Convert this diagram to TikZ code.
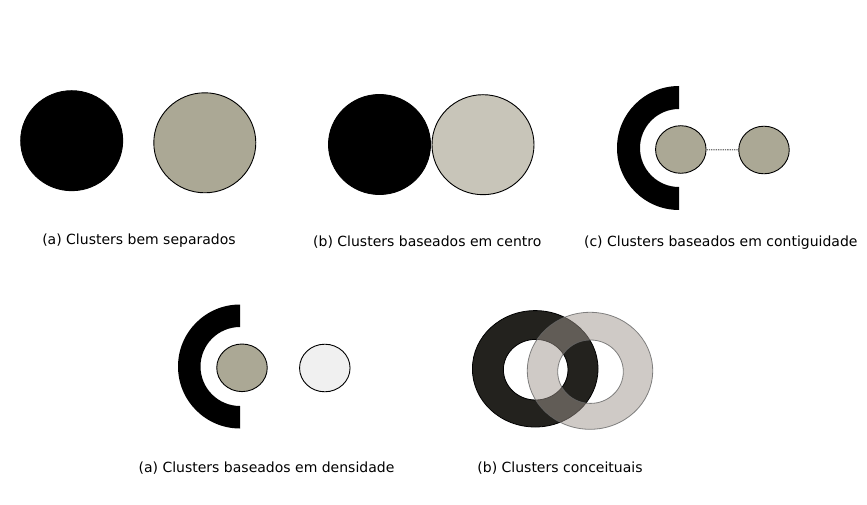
\documentclass[tikz,border=0pt]{standalone}
\usepackage{fontspec}
\setmainfont{DejaVu Sans}
\usetikzlibrary{shapes.geometric}

\definecolor{khaki}{RGB}{171,168,149}
\definecolor{pale}{RGB}{200,197,185}
\definecolor{snow}{RGB}{240,240,240}
\definecolor{coal}{RGB}{35,34,30}
\definecolor{stone}{RGB}{160,150,142}

\begin{document}
\begin{tikzpicture}[x=1pt, y=1pt,
  blob/.style={ellipse, draw=black, line width=0.9pt, inner sep=0pt},
  big/.style={blob, minimum width=102pt, minimum height=100pt},
  small/.style={blob, minimum width=50.5pt, minimum height=47.6pt},
  caption/.style={font=\fontsize{14}{16}\selectfont, inner sep=0pt}
]
\useasboundingbox (0,0) rectangle (867,504);

% (a) bem separados
\node[big, fill=black] (sepL) at (71.7,363.3) {};
\node[big, fill=khaki] (sepR) at (204.8,361.2) {};
\node[caption] (capSep) at (139,263) {(a) Clusters bem separados};

% (b) centro
\node[big, fill=black] (cenL) at (379.5,359.5) {};
\node[big, fill=pale] (cenR) at (483,359.3) {};
\node[caption] (capCen) at (427.3,262) {(b) Clusters baseados em centro};

% (c) contiguidade
\fill[black] (679,418) arc[start angle=90, end angle=270, radius=62]
  -- (679,317) arc[start angle=270, end angle=90, radius=39] -- cycle;
\node[small, fill=khaki] (conL) at (680.8,354.5) {};
\node[small, fill=khaki] (conR) at (764,354) {};
\draw[black!55, densely dotted, line width=1.3pt] (conL) -- (conR);
\node[caption] (capCon) at (720.8,261) {(c) Clusters baseados em contiguidade};

% (a) densidade
\fill[black] (240,199.5) arc[start angle=90, end angle=270, radius=62]
  -- (240,98) arc[start angle=270, end angle=90, radius=39.5] -- cycle;
\node[small, fill=khaki] (denL) at (242,136.2) {};
\node[small, fill=snow] (denR) at (324.8,136) {};
\node[caption] (capDen) at (266.5,36) {(a) Clusters baseados em densidade};

% (b) conceituais
\filldraw[coal, draw=black, line width=0.8pt, even odd rule]
  (535.2,135.2) ellipse[x radius=62.8, y radius=58.2]
  (535.7,134.3) ellipse[x radius=32.3, y radius=30.3];
\filldraw[fill=stone, draw=black!60, fill opacity=0.5, draw opacity=0.8, line width=0.8pt, even odd rule]
  (590,133.2) ellipse[x radius=62.7, y radius=58.5]
  (590.5,132.3) ellipse[x radius=32.8, y radius=31.7];
\node[caption] (capCon2) at (560,36) {(b) Clusters conceituais};
\end{tikzpicture}
\end{document}
